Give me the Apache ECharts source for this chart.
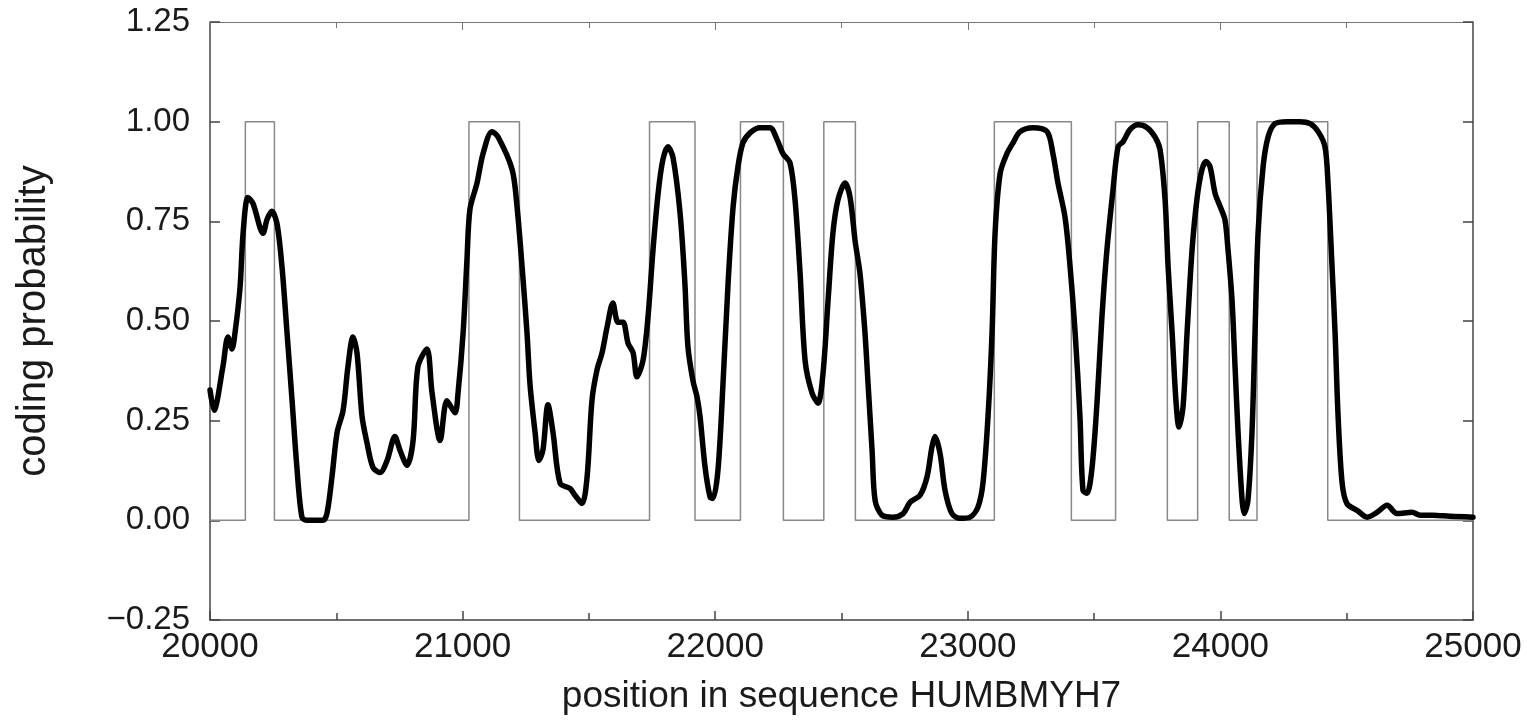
<!DOCTYPE html>
<html>
<head>
<meta charset="utf-8">
<script src="https://cdn.jsdelivr.net/npm/echarts@6/dist/echarts.min.js"></script>
<style>html,body{margin:0;padding:0;background:#fff}#c{width:1527px;height:723px}</style>
</head>
<body>
<div id="c"></div>
<script>
// coding probability curve: positions and values
var positions = [20000,20016,20051,20071,20087,20099,20119,20131,20150,20170,20210,20226,20245,20265,20285,20305,20325,20344,20364,20384,20447,20463,20483,20503,20527,20546,20566,20582,20602,20622,20645,20673,20701,20732,20752,20780,20804,20823,20859,20879,20911,20938,20970,20982,21002,21017,21029,21057,21081,21116,21140,21196,21215,21235,21255,21267,21287,21302,21318,21338,21358,21386,21425,21445,21473,21493,21512,21532,21552,21572,21595,21615,21635,21655,21675,21690,21714,21734,21754,21774,21793,21813,21833,21861,21880,21892,21912,21928,21940,21960,21980,21991,22011,22031,22051,22071,22090,22110,22138,22177,22217,22245,22268,22296,22316,22336,22356,22383,22407,22427,22447,22466,22486,22514,22534,22554,22573,22593,22605,22621,22633,22660,22704,22744,22771,22811,22839,22858,22870,22890,22910,22937,22969,23009,23040,23060,23080,23096,23108,23128,23155,23179,23207,23258,23314,23337,23357,23385,23405,23425,23444,23456,23472,23492,23512,23531,23551,23575,23595,23615,23642,23674,23710,23741,23761,23781,23793,23809,23824,23836,23852,23868,23888,23908,23927,23943,23959,23979,23999,24018,24030,24046,24058,24070,24086,24094,24109,24125,24137,24149,24169,24189,24216,24264,24315,24355,24387,24414,24426,24442,24454,24466,24482,24501,24541,24581,24620,24660,24699,24759,24790,24842,24909,25000];
var probability = [0.327,0.276,0.385,0.46,0.43,0.47,0.585,0.72,0.81,0.795,0.72,0.755,0.775,0.745,0.636,0.47,0.30,0.133,0.008,0.0,0.0,0.017,0.11,0.22,0.276,0.385,0.46,0.42,0.26,0.193,0.133,0.12,0.15,0.21,0.176,0.138,0.20,0.385,0.43,0.32,0.20,0.30,0.27,0.32,0.47,0.65,0.78,0.846,0.92,0.975,0.962,0.88,0.79,0.64,0.47,0.34,0.22,0.15,0.176,0.29,0.22,0.093,0.08,0.063,0.042,0.11,0.30,0.377,0.42,0.485,0.545,0.497,0.497,0.444,0.42,0.36,0.40,0.51,0.68,0.82,0.905,0.937,0.91,0.77,0.595,0.436,0.35,0.31,0.26,0.133,0.058,0.055,0.126,0.344,0.595,0.787,0.887,0.947,0.972,0.985,0.985,0.955,0.92,0.897,0.804,0.62,0.40,0.32,0.294,0.37,0.553,0.72,0.804,0.846,0.81,0.70,0.62,0.47,0.344,0.176,0.05,0.013,0.008,0.017,0.045,0.063,0.11,0.184,0.21,0.168,0.075,0.017,0.005,0.008,0.033,0.093,0.26,0.47,0.72,0.87,0.92,0.947,0.975,0.985,0.975,0.92,0.846,0.76,0.636,0.47,0.26,0.075,0.068,0.133,0.30,0.51,0.68,0.83,0.937,0.95,0.98,0.992,0.985,0.962,0.93,0.804,0.636,0.47,0.30,0.234,0.284,0.47,0.68,0.81,0.88,0.90,0.887,0.82,0.787,0.754,0.68,0.553,0.385,0.22,0.05,0.017,0.05,0.22,0.47,0.72,0.887,0.962,0.995,1.0,1.0,0.995,0.975,0.937,0.846,0.636,0.47,0.26,0.093,0.042,0.025,0.008,0.02,0.038,0.017,0.02,0.013,0.013,0.01,0.008];
// predicted exons (step function 0/1)
var exonStarts = [20140,21025,21740,22100,22430,23105,23585,23910,24145];
var exonEnds   = [20255,21225,21920,22270,22555,23410,23790,24035,24425];
var xTicks = [20000,21000,22000,23000,24000,25000];
var yTicks = [-0.25,0,0.25,0.5,0.75,1,1.25];

var curve = positions.map(function(p,i){return [p, probability[i]];});
var steps = [[20000,0]];
exonStarts.forEach(function(s,i){
  steps.push([s,0],[s,1],[exonEnds[i],1],[exonEnds[i],0]);
});
steps.push([25000,0]);

var font = '"Liberation Sans", Arial, Helvetica, sans-serif';
var axisLineStyle = {color:'#444', width:1.5};
var chart = echarts.init(document.getElementById('c'), null, {renderer:'canvas'});
chart.setOption({
  animation:false,
  backgroundColor:'#fff',
  grid:{left:210, right:54, top:22, bottom:103},
  xAxis:[{
    type:'value', min:xTicks[0], max:xTicks[xTicks.length-1], interval:1000,
    position:'bottom',
    axisLine:{show:true, onZero:false, lineStyle:axisLineStyle},
    axisTick:{show:true, inside:true, length:9, lineStyle:axisLineStyle},
    minorTick:{show:true, splitNumber:2, length:7, lineStyle:axisLineStyle},
    splitLine:{show:false},
    axisLabel:{margin:10, fontFamily:font, fontSize:35, color:'#1a1a1a', formatter:function(v){return String(v);}},
    name:'position in sequence HUMBMYH7', nameLocation:'middle', nameGap:58,
    nameTextStyle:{fontFamily:font, fontSize:37, color:'#1a1a1a'}
  },{
    type:'value', min:xTicks[0], max:xTicks[xTicks.length-1], interval:1000,
    position:'top',
    axisLine:{show:true, onZero:false, lineStyle:{color:'#777', width:1.2}},
    axisTick:{show:true, inside:true, length:8, lineStyle:{color:'#777'}},
    minorTick:{show:true, splitNumber:2, length:6, lineStyle:{color:'#777'}},
    splitLine:{show:false}, axisLabel:{show:false}
  }],
  yAxis:[{
    type:'value', min:yTicks[0], max:yTicks[yTicks.length-1], interval:0.25,
    position:'left',
    axisLine:{show:true, onZero:false, lineStyle:axisLineStyle},
    axisTick:{show:true, inside:true, length:10, lineStyle:axisLineStyle},
    splitLine:{show:false},
    axisLabel:{margin:20, fontFamily:font, fontSize:33, color:'#1a1a1a',
      formatter:function(v){var s=Math.abs(v).toFixed(2);return v<0?'\u2212'+s:s;}},
    name:'coding probability', nameLocation:'middle', nameGap:156, nameRotate:90,
    nameTextStyle:{fontFamily:font, fontSize:40, color:'#1a1a1a'}
  },{
    type:'value', min:yTicks[0], max:yTicks[yTicks.length-1], interval:0.25,
    position:'right',
    axisLine:{show:true, onZero:false, lineStyle:axisLineStyle},
    axisTick:{show:true, inside:true, length:10, lineStyle:axisLineStyle},
    splitLine:{show:false}, axisLabel:{show:false}
  }],
  series:[{
    type:'line', data:steps, showSymbol:false, symbol:'none',
    lineStyle:{color:'#888', width:1.5}, z:2
  },{
    type:'line', data:curve, showSymbol:false, symbol:'none', smooth:0.3,
    lineStyle:{color:'#000', width:5.5, join:'round', cap:'round'}, z:3
  }]
});
</script>
</body>
</html>
